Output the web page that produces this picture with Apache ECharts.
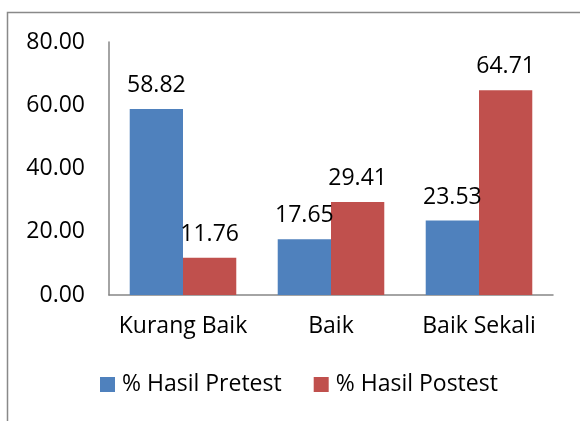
<!DOCTYPE html>
<html><head><meta charset="utf-8">
<script src="https://cdn.jsdelivr.net/npm/echarts@6/dist/echarts.min.js"></script>
<style>html,body{margin:0;padding:0;background:#fff}#c{width:580px;height:421px}</style>
</head><body><div id="c"></div>
<script>
var categories = ['Kurang Baik', 'Baik', 'Baik Sekali'];
var pretest = [58.82, 17.65, 23.53];
var postest = [11.76, 29.41, 64.71];
var seriesNames = ['% Hasil Pretest', '% Hasil Postest'];
var FONT = '"Open Sans", sans-serif';
var FS = 23;
var chart = echarts.init(document.getElementById('c'), null, {renderer: 'canvas'});
function lbl() {
  return {show: true, position: 'top', distance: 12, color: '#000', fontFamily: FONT, fontSize: FS,
    formatter: function (p) { return p.value.toFixed(2); }};
}
chart.setOption({
  animation: false,
  backgroundColor: '#fff',
  graphic: [{type: 'rect', shape: {x: 7.5, y: 12.5, width: 620, height: 480},
    style: {fill: 'none', stroke: '#898989', lineWidth: 1.5}, silent: true, z: -1}],
  grid: {left: 109, right: 27, top: 42, bottom: 126},
  legend: {bottom: 25, left: 100, padding: 0, itemWidth: 15, itemHeight: 15, itemGap: 32, icon: 'rect',
    textStyle: {fontFamily: FONT, fontSize: FS, color: '#000', padding: [0, 0, 0, 2]}, data: seriesNames},
  xAxis: {type: 'category', data: categories,
    axisLine: {lineStyle: {color: '#868686', width: 1.5}}, axisTick: {show: false},
    axisLabel: {color: '#000', fontFamily: FONT, fontSize: FS, margin: 20, interval: 0}},
  yAxis: {type: 'value', min: 0, max: 80, interval: 20,
    splitLine: {show: false}, axisTick: {show: false},
    axisLine: {show: true, lineStyle: {color: '#868686', width: 1.5}},
    axisLabel: {color: '#000', fontFamily: FONT, fontSize: FS, margin: 24,
      formatter: function (v) { return v.toFixed(2); }}},
  series: [
    {name: seriesNames[0], type: 'bar', data: pretest, barWidth: '36%', barGap: '0%',
      itemStyle: {color: '#4F81BD'}, label: lbl()},
    {name: seriesNames[1], type: 'bar', data: postest, barWidth: '36%', barGap: '0%',
      itemStyle: {color: '#C0504D'}, label: lbl()}
  ]
});
</script></body></html>
